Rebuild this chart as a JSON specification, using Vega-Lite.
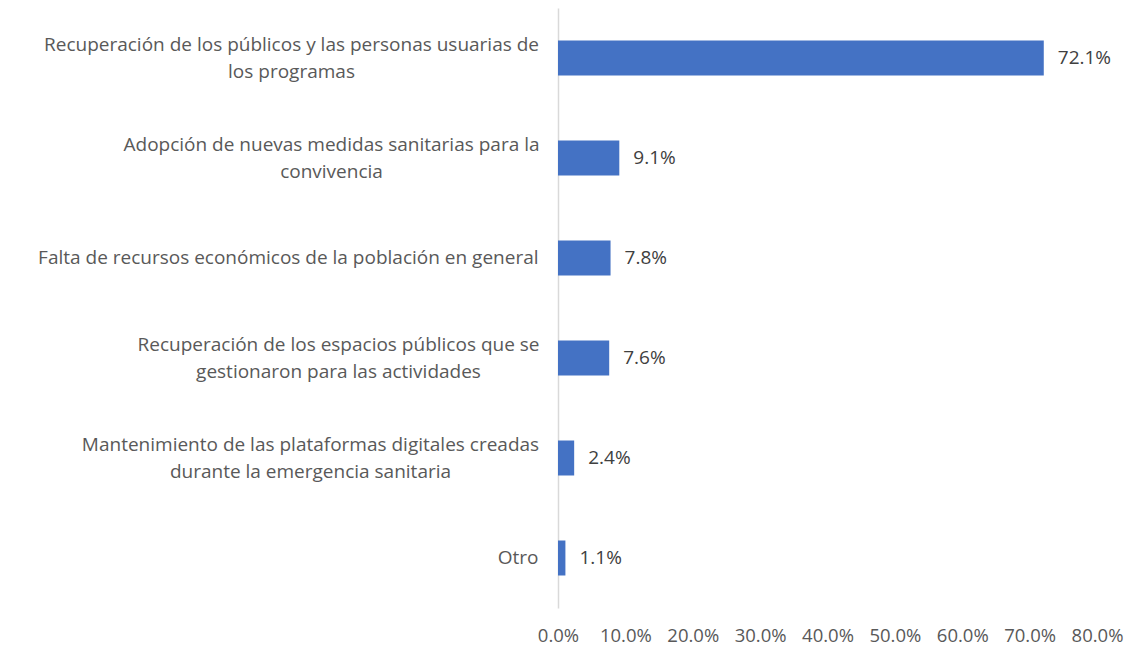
{
  "$schema": "https://vega.github.io/schema/vega-lite/v6.json",
  "width": 539,
  "height": 600,
  "autosize": {"type": "none"},
  "padding": {"left": 558, "top": 8, "right": 47, "bottom": 55},
  "background": "white",
  "config": {"view": {"stroke": null}, "font": "Open Sans"},
  "data": {
    "values": [
      {"label": "Recuperación de los públicos y las personas usuarias de\nlos programas", "value": 0.721, "text": "72.1%"},
      {"label": "Adopción de nuevas medidas sanitarias para la\nconvivencia", "value": 0.091, "text": "9.1%"},
      {"label": "Falta de recursos económicos de la población en general", "value": 0.078, "text": "7.8%"},
      {"label": "Recuperación de los espacios públicos que se\ngestionaron para las actividades", "value": 0.076, "text": "7.6%"},
      {"label": "Mantenimiento de las plataformas digitales creadas\ndurante la emergencia sanitaria", "value": 0.024, "text": "2.4%"},
      {"label": "Otro", "value": 0.011, "text": "1.1%"}
    ]
  },
  "encoding": {
    "y": {
      "field": "label",
      "type": "nominal",
      "sort": null,
      "scale": {"paddingInner": 0.65, "paddingOuter": 0.325},
      "axis": {
        "title": null,
        "labelExpr": "split(datum.value, '\\n')",
        "labelFont": "Open Sans",
        "labelFontSize": 19,
        "labelColor": "#595959",
        "labelLineHeight": 27,
        "labelLimit": 600,
        "labelAlign": {"condition": {"test": "indexof(datum.value, '\\n') >= 0", "value": "center"}, "value": "right"},
        "labelPadding": {"condition": [
          {"test": "indexof(datum.value, 'públicos y') >= 0", "value": 267},
          {"test": "indexof(datum.value, 'Adopción') >= 0", "value": 227},
          {"test": "indexof(datum.value, 'espacios') >= 0", "value": 220},
          {"test": "indexof(datum.value, 'Mantenimiento') >= 0", "value": 248}
        ], "value": 20},
        "labelOffset": {"condition": {"test": "indexof(datum.value, '\\n') >= 0", "value": -13.5}, "value": 0},
        "ticks": false,
        "domainColor": "#D9D9D9",
        "domainWidth": 1.5
      }
    },
    "x": {
      "field": "value",
      "type": "quantitative",
      "scale": {"domain": [0, 0.8], "nice": false},
      "axis": {
        "title": null,
        "format": ".1%",
        "values": [0, 0.1, 0.2, 0.3, 0.4, 0.5, 0.6, 0.7, 0.8],
        "grid": false,
        "ticks": false,
        "domain": false,
        "labelFont": "Open Sans",
        "labelFontSize": 18.5,
        "labelColor": "#595959",
        "labelPadding": 18,
        "labelFlush": false
      }
    }
  },
  "layer": [
    {"mark": {"type": "bar", "color": "#4472C4"}},
    {
      "mark": {"type": "text", "align": "left", "dx": 14, "font": "Open Sans", "fontSize": 19, "color": "#404040"},
      "encoding": {"text": {"field": "text"}}
    }
  ]
}
